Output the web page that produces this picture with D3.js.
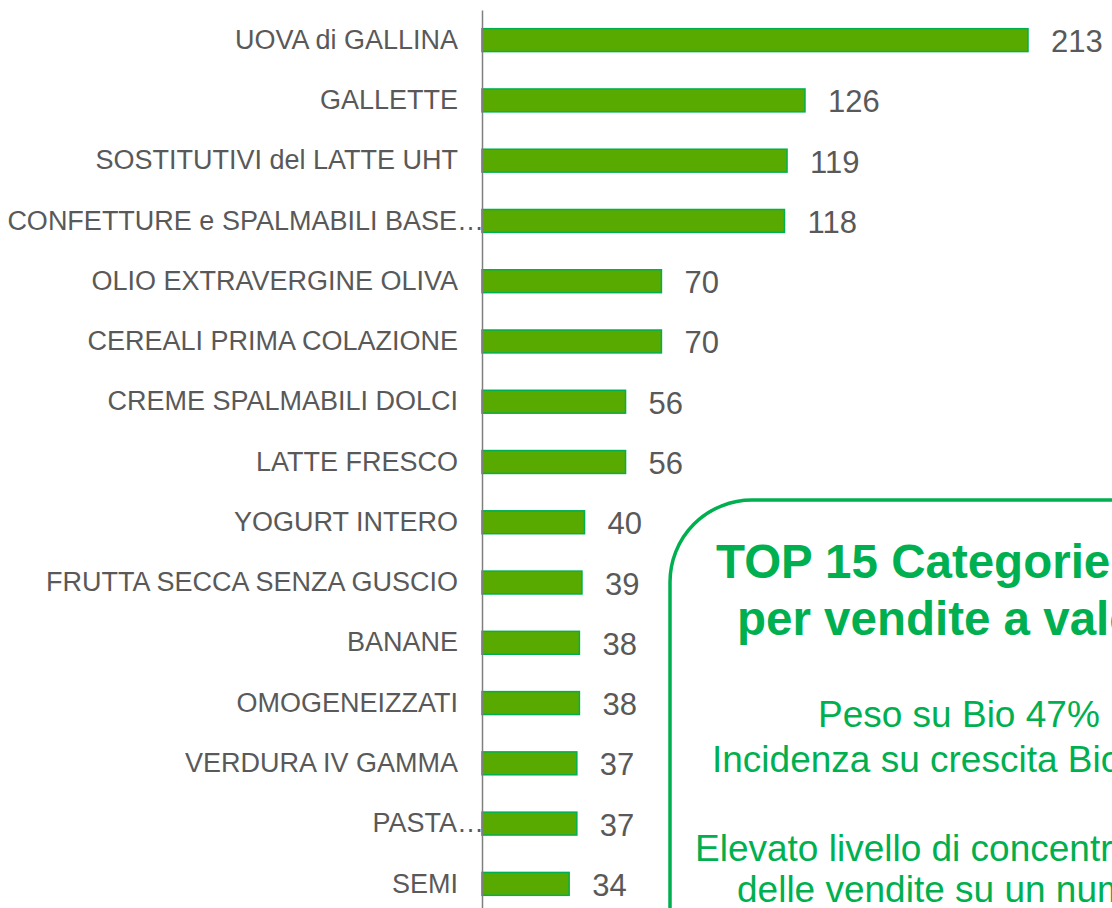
<!DOCTYPE html>
<html>
<head>
<meta charset="utf-8">
<script src="https://cdn.jsdelivr.net/npm/d3@7"></script>
<style>
  html, body { margin: 0; padding: 0; background: #fff; overflow: hidden; }
  svg { display: block; }
</style>
</head>
<body>
<svg id="chart"></svg>
<script>
// categories, top to bottom
const categories = [
  'UOVA di GALLINA', 'GALLETTE', 'SOSTITUTIVI del LATTE UHT',
  'CONFETTURE e SPALMABILI BASE\u2026', 'OLIO EXTRAVERGINE OLIVA',
  'CEREALI PRIMA COLAZIONE', 'CREME SPALMABILI DOLCI', 'LATTE FRESCO',
  'YOGURT INTERO', 'FRUTTA SECCA SENZA GUSCIO', 'BANANE', 'OMOGENEIZZATI',
  'VERDURA IV GAMMA', 'PASTA\u2026', 'SEMI'
];
const values = [213, 126, 119, 118, 70, 70, 56, 56, 40, 39, 38, 38, 37, 37, 34];

const titleLines = ['TOP 15 Categorie', 'per vendite a valore'];
const noteLines = [
  'Peso su Bio 47%', 'Incidenza su crescita Bio', '',
  'Elevato livello di concentrazione', 'delle vendite su un numero'
];

const width = 1112, height = 908;
const svg = d3.select('#chart').attr('width', width).attr('height', height);

const font = 'Arial, "Liberation Sans", sans-serif';
const gray = '#595959';
const green = '#00B050';

// scales
const x = d3.scaleLinear().domain([0, 213]).range([482, 1028]);
const y = d3.scaleBand()
  .domain(categories)
  .range([10, 914])
  .paddingInner(0.62)
  .paddingOuter(0.31);

// bars
svg.append('g')
  .selectAll('rect')
  .data(values)
  .join('rect')
    .attr('x', x(0))
    .attr('y', (d, i) => y(categories[i]))
    .attr('width', d => x(d) - x(0))
    .attr('height', y.bandwidth())
    .attr('fill', '#58A900')
    .attr('stroke', green)
    .attr('stroke-width', 1.5);

// value labels
svg.append('g')
  .selectAll('text')
  .data(values)
  .join('text')
    .attr('x', d => x(d) + 23)
    .attr('y', (d, i) => y(categories[i]) + y.bandwidth() / 2 + 12)
    .attr('font-family', font)
    .attr('font-size', '31px')
    .attr('fill', gray)
    .text(d => d);

// category axis
const axis = svg.append('g')
  .attr('transform', `translate(${x(0)},0)`)
  .call(d3.axisLeft(y).tickSize(0).tickPadding(24));
axis.select('.domain').attr('stroke', '#7f7f7f').attr('stroke-width', 1.5);
axis.selectAll('text')
  .attr('font-family', font)
  .attr('font-size', '27px')
  .attr('fill', gray)
  // truncated labels run up to the axis line
  .attr('x', d => d.endsWith('\u2026') ? 2 : -24);

// callout box
svg.append('rect')
  .attr('x', 670)
  .attr('y', 500)
  .attr('width', 600)
  .attr('height', 500)
  .attr('rx', 82)
  .attr('ry', 82)
  .attr('fill', '#fff')
  .attr('stroke', green)
  .attr('stroke-width', 3.5);

const titleX = [716, 737];
const titleY = [578, 635];
titleLines.forEach((t, i) => {
  svg.append('text')
    .attr('x', titleX[i])
    .attr('y', titleY[i])
    .attr('font-family', font)
    .attr('font-size', '47.5px')
    .attr('font-weight', 'bold')
    .attr('fill', green)
    .text(t);
});

const noteX = [818, 712, 0, 695, 737];
const noteY = [727, 772, 0, 861, 902];
noteLines.forEach((t, i) => {
  if (!t) return;
  svg.append('text')
    .attr('x', noteX[i])
    .attr('y', noteY[i])
    .attr('font-family', font)
    .attr('font-size', '37px')
    .attr('fill', green)
    .text(t);
});
</script>
</body>
</html>
